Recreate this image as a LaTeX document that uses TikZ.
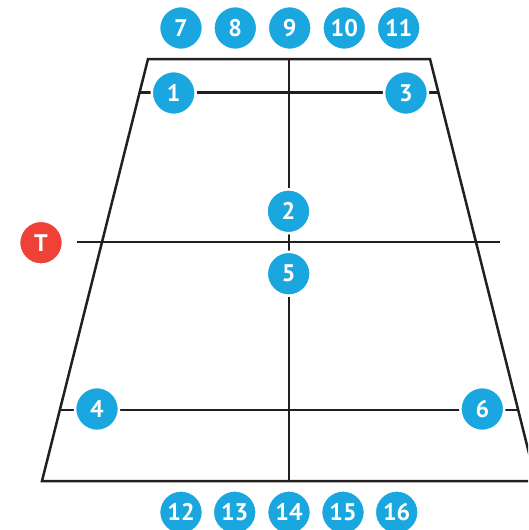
\documentclass[tikz,border=0pt]{standalone}
\usepackage{fontspec}
\setmainfont{PT Sans}
\usetikzlibrary{calc}
\definecolor{pblue}{HTML}{1AA6DF}
\definecolor{pred}{HTML}{EF4136}
\definecolor{pline}{HTML}{231F20}
\begin{document}
\begin{tikzpicture}[x=1pt,y=-1pt,
  court/.style={draw=pline,line width=2.5pt},
  player/.style={circle,fill=pblue,draw=white,line width=2.5pt,minimum size=43.9pt,inner sep=0pt,
    text=white,font=\fontsize{24}{24}\selectfont\bfseries},
  tpl/.style={player,fill=pred}]
\useasboundingbox (0,0) rectangle (528,530);
\clip (0,0) rectangle (528,530);
\coordinate (tl) at (148,59);
\coordinate (tr) at (430,59);
\coordinate (br) at (536,481);
\coordinate (bl) at (42,481);
\coordinate (tm) at ($(tl)!0.5!(tr)$);
\coordinate (bm) at ($(bl)!0.5!(br)$);
\coordinate (l1) at ($(tl)!0.0794!(bl)$);
\coordinate (r1) at ($(tr)!0.0794!(br)$);
\coordinate (l4) at ($(tl)!0.8318!(bl)$);
\coordinate (r4) at ($(tr)!0.8318!(br)$);
\coordinate (tlL) at (77,242);
\coordinate (tlR) at (500,242);
\draw[court] (tl) -- (tr) -- (br) -- (bl) -- cycle;
\draw[court] (tm) -- (bm);
\draw[court] (l1) -- (r1);
\draw[court] (l4) -- (r4);
\draw[court] (tlL) -- (tlR);
\node[player] (p7) at (181,28) {7};
\node[player] (p8) at (235.3,28) {8};
\node[player] (p9) at (289.7,28) {9};
\node[player] (p10) at (344.3,28) {10};
\node[player] (p11) at (398.7,28) {11};
\node[player] (p1) at (173.7,93) {1};
\node[player] (p3) at (406,93) {3};
\node[player] (p2) at (288.5,211.3) {2};
\node[player] (p5) at (288.7,273.7) {5};
\node[tpl] (t) at (41,242.7) {T};
\node[player] (p4) at (97,409) {4};
\node[player] (p6) at (482.3,409) {6};
\node[player] (p12) at (181,512.3) {12};
\node[player] (p13) at (234.7,512.3) {13};
\node[player] (p14) at (289,512.3) {14};
\node[player] (p15) at (343,512.3) {15};
\node[player] (p16) at (396.7,512.3) {16};
\end{tikzpicture}
\end{document}
